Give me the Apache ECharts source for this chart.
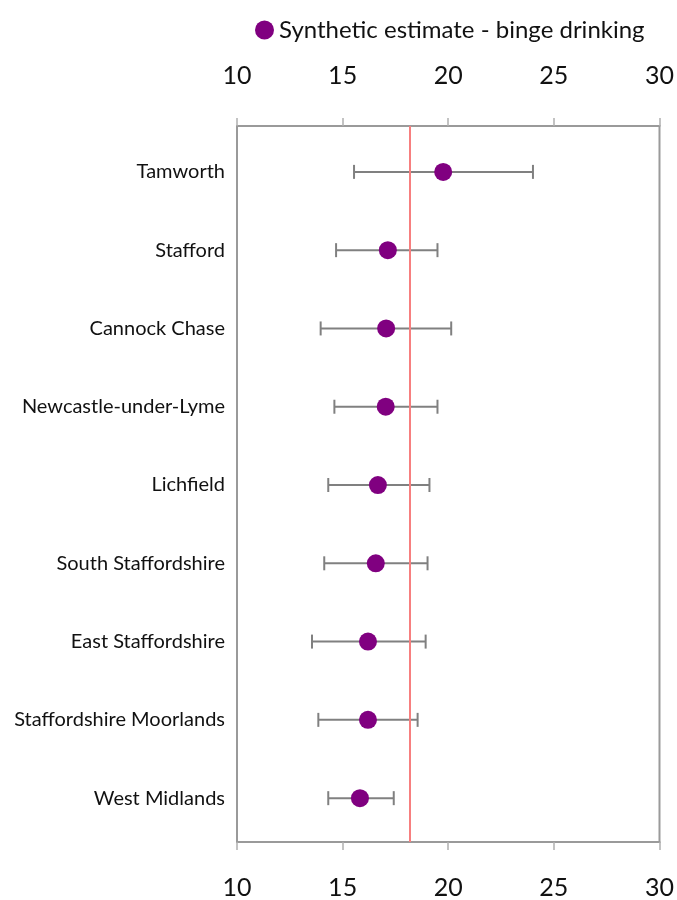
<!DOCTYPE html>
<html>
<head>
<meta charset="utf-8">
<script src="https://cdn.jsdelivr.net/npm/echarts@6/dist/echarts.min.js"></script>
<style>
  html, body { margin: 0; padding: 0; background: #ffffff; }
  #chart { width: 677px; height: 900px; }
</style>
</head>
<body>
<div id="chart"></div>
<script>
// Areas, top to bottom
const areas = [
  'Tamworth',
  'Stafford',
  'Cannock Chase',
  'Newcastle-under-Lyme',
  'Lichfield',
  'South Staffordshire',
  'East Staffordshire',
  'Staffordshire Moorlands',
  'West Midlands'
];
// Synthetic estimate of binge drinking (%)
const estimate = [19.76, 17.14, 17.06, 17.04, 16.67, 16.57, 16.2, 16.2, 15.82];
// 95% confidence limits
const lowerCI = [15.54, 14.69, 13.96, 14.61, 14.32, 14.13, 13.55, 13.85, 14.32];
const upperCI = [24.01, 19.49, 20.14, 19.49, 19.11, 19.02, 18.93, 18.55, 17.42];
// England reference value
const englandValue = 18.17;
// Axis ticks
const axisMin = 10, axisMax = 30, axisStep = 5;

const FONT = 'Lato, "Open Sans", sans-serif';
const GRAY = '#9a9a9a';

const chart = echarts.init(document.getElementById('chart'));

const rowIndex = areas.map((a, i) => i);
const errorData = areas.map((a, i) => [lowerCI[i], upperCI[i], i]);

const xAxisBase = {
  type: 'value',
  min: axisMin,
  max: axisMax,
  interval: axisStep,
  splitLine: { show: false },
  axisLine: { show: true, onZero: false, lineStyle: { color: GRAY, width: 2 } },
  axisTick: { show: true, length: 8, lineStyle: { color: '#b0b0b0', width: 1.5 } },
  axisLabel: { color: '#111', fontFamily: FONT, fontSize: 25 }
};

chart.setOption({
  animation: false,
  backgroundColor: '#ffffff',
  legend: {
    data: [{ name: 'Synthetic estimate - binge drinking', icon: 'circle' }],
    top: 13,
    left: 250,
    itemWidth: 19,
    itemHeight: 19,
    itemGap: 8,
    textStyle: { fontFamily: FONT, fontSize: 24, color: '#111' }
  },
  grid: {
    left: 237,
    right: 15,
    top: 126,
    bottom: 56,
    show: true,
    borderColor: GRAY,
    borderWidth: 2,
    containLabel: false
  },
  xAxis: [
    Object.assign({}, xAxisBase, {
      position: 'top',
      axisLabel: Object.assign({}, xAxisBase.axisLabel, { margin: 38 })
    }),
    Object.assign({}, xAxisBase, {
      position: 'bottom',
      axisLabel: Object.assign({}, xAxisBase.axisLabel, { margin: 33 })
    })
  ],
  yAxis: {
    type: 'value',
    inverse: true,
    min: -0.586,
    max: 8.56,
    axisLine: { show: true, onZero: false, lineStyle: { color: GRAY, width: 2 } },
    axisTick: { show: false },
    splitLine: { show: false },
    axisLabel: {
      customValues: rowIndex,
      formatter: function (v) { return areas[Math.round(v)] || ''; },
      color: '#111',
      fontFamily: FONT,
      fontSize: 20,
      margin: 12
    }
  },
  series: [
    {
      name: 'Confidence interval',
      type: 'custom',
      xAxisIndex: 0,
      z: 2,
      renderItem: function (params, api) {
        const y = api.value(2);
        const p1 = api.coord([api.value(0), y]);
        const p2 = api.coord([api.value(1), y]);
        const cap = 7;
        const style = { stroke: '#808080', lineWidth: 2 };
        return {
          type: 'group',
          children: [
            { type: 'line', shape: { x1: p1[0], y1: p1[1], x2: p2[0], y2: p2[1] }, style: style },
            { type: 'line', shape: { x1: p1[0], y1: p1[1] - cap, x2: p1[0], y2: p1[1] + cap }, style: style },
            { type: 'line', shape: { x1: p2[0], y1: p2[1] - cap, x2: p2[0], y2: p2[1] + cap }, style: style }
          ]
        };
      },
      encode: { x: [0, 1], y: 2 },
      data: errorData
    },
    {
      name: 'England',
      type: 'line',
      xAxisIndex: 0,
      data: [],
      markLine: {
        silent: true,
        symbol: 'none',
        label: { show: false },
        lineStyle: { color: '#f77f7f', width: 2, type: 'solid' },
        data: [{ xAxis: englandValue }]
      },
      z: 3
    },
    {
      name: 'Synthetic estimate - binge drinking',
      type: 'scatter',
      xAxisIndex: 0,
      symbol: 'circle',
      symbolSize: 18,
      itemStyle: { color: '#800080', opacity: 1 },
      data: estimate.map((v, i) => [v, i]),
      z: 4
    }
  ]
});
</script>
</body>
</html>
